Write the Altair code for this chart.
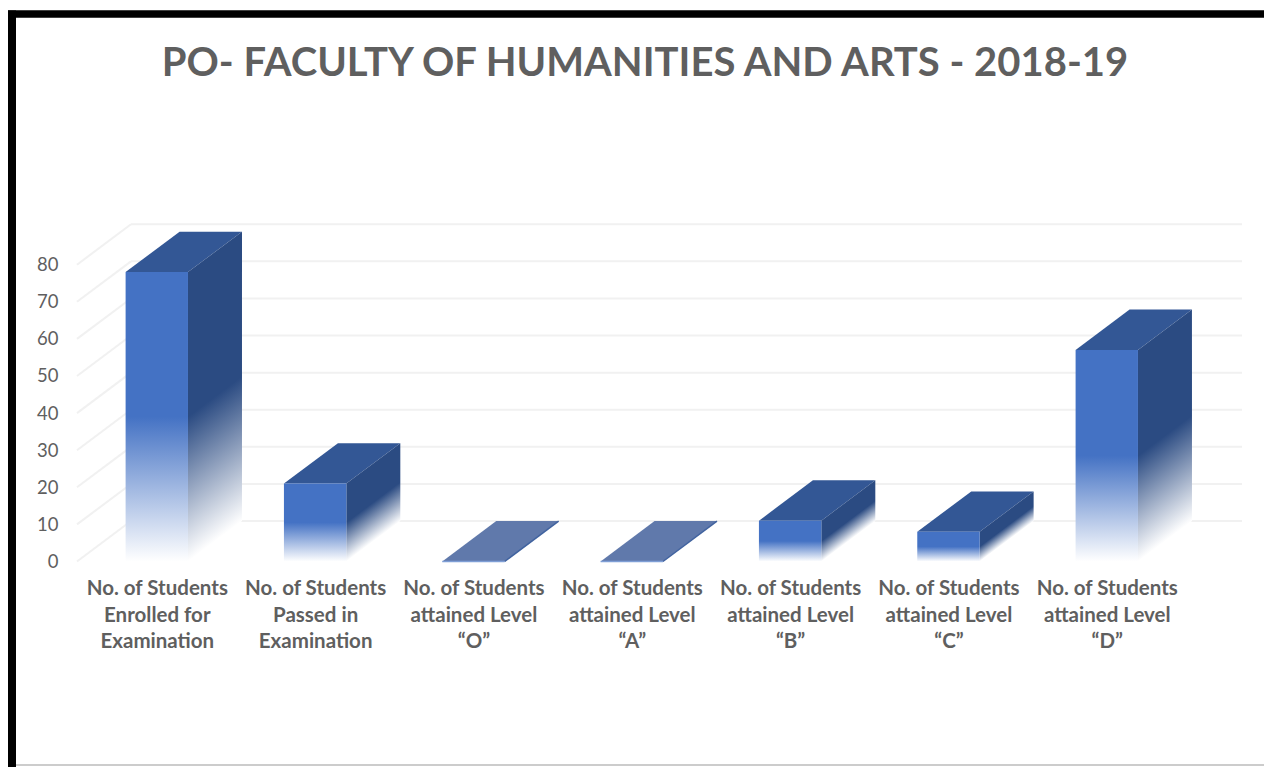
import json
import altair as alt
import pandas as pd

TITLE = "PO- FACULTY OF HUMANITIES AND ARTS - 2018-19"
categories = [
    "No. of Students|Enrolled for|Examination",
    "No. of Students|Passed in|Examination",
    "No. of Students|attained Level|“O”",
    "No. of Students|attained Level|“A”",
    "No. of Students|attained Level|“B”",
    "No. of Students|attained Level|“C”",
    "No. of Students|attained Level|“D”",
]
values = [78, 21, 0, 0, 11, 8, 57]
ticks = [0, 10, 20, 30, 40, 50, 60, 70, 80]

HALF = 0.197   # half bar width, in category units
DX = 0.341     # depth of the 3-D box, in category units
DY = 10.9      # depth of the 3-D box, in value units
XMIN, XMAX = -0.504, 6.854
YMAX = 91.1
PX = 3.71

TEXT = "#5f5f5f"
FONT = "Lato"
GRID = "#f1f1f1"
FRONT = "#4472c4"
SIDE = "#2b4b82"
TOP = "#335795"
ZERO_TOP = "#6079ab"

label_expr = "split(" + json.dumps(categories, ensure_ascii=False) + "[datum.value], '|')"

xs = alt.Scale(domain=[XMIN, XMAX], nice=False, zero=False)
ys = alt.Scale(domain=[0, YMAX], nice=False, zero=False)
x_axis = alt.Axis(
    values=list(range(7)), labelExpr=label_expr, domain=False, ticks=False, grid=False,
    labelFont=FONT, labelFontSize=20.5, labelFontWeight="bold", labelColor=TEXT,
    labelPadding=27, labelLineHeight=26.5, labelOverlap=False, labelFlush=False,
    labelBound=False, labelAngle=0, labelBaseline="middle")
y_axis = alt.Axis(
    values=ticks, domain=False, ticks=False, grid=False,
    labelFont=FONT, labelFontSize=18.5, labelColor=TEXT, labelPadding=19,
    labelOverlap=False, labelBound=False, labelFlush=False)
X = alt.X("x:Q", scale=xs, axis=x_axis, title=None)
Y = alt.Y("y:Q", scale=ys, axis=y_axis, title=None)
X2 = alt.X2("x2:Q")
Y2 = alt.Y2("y2:Q")

# back wall grid
wall = pd.DataFrame({"x": [XMIN + DX] * len(ticks), "x2": [XMAX] * len(ticks),
                     "y": [t + DY for t in ticks], "t": ticks})
grid = alt.Chart(wall).mark_rule(color=GRID, strokeWidth=2).encode(x=X, x2=X2, y=Y)

# floor-side slanted lines
floor_rows = []
for t in ticks:
    floor_rows.append({"x": XMIN, "y": t, "t": t})
    floor_rows.append({"x": XMIN + DX, "y": t + DY, "t": t})
floor = alt.Chart(pd.DataFrame(floor_rows)).mark_line(color=GRID, strokeWidth=2).encode(
    x=X, y=Y, detail="t:N")

layers = [grid, floor]


def side_gradient(v):
    h = v * PX
    k = (DY * PX) / (h + DY * PX)
    t = (1 - k) / (1 + k * k)
    return alt.LinearGradient(
        gradient="linear",
        stops=[alt.GradientStop(color=SIDE, offset=0),
               alt.GradientStop(color=SIDE, offset=0.5),
               alt.GradientStop(color="#ffffff", offset=1)],
        x1=0, y1=k, x2=k * t, y2=k + t)


front_grad = alt.LinearGradient(
    gradient="linear",
    stops=[alt.GradientStop(color=FRONT, offset=0),
           alt.GradientStop(color=FRONT, offset=0.5),
           alt.GradientStop(color="#ffffff", offset=1)],
    x1=0, y1=0, x2=0, y2=1)

for i, v in enumerate(values):
    xl, xr = i - HALF, i + HALF
    top = pd.DataFrame({
        "x": [xl, xl + DX, xr, xr + DX],
        "y": [v, v, v, v + DY],
        "y2": [v, v + DY, v + DY, v + DY],
    })
    layers.append(alt.Chart(top).mark_area(
        color=TOP if v > 0 else ZERO_TOP, interpolate="linear").encode(x=X, y=Y, y2=Y2))
    if v > 0:
        side = pd.DataFrame({"x": [xr, xr + DX], "y": [0, DY], "y2": [v, v + DY]})
        layers.append(alt.Chart(side).mark_area(
            color=side_gradient(v), interpolate="linear").encode(x=X, y=Y, y2=Y2))
        front = pd.DataFrame({"x": [xl], "x2": [xr], "y": [0], "y2": [v]})
        layers.append(alt.Chart(front).mark_rect(color=front_grad).encode(x=X, x2=X2, y=Y, y2=Y2))
    else:
        edge = pd.DataFrame({"x": [xr, xr + DX], "y": [0, DY]})
        layers.append(alt.Chart(edge).mark_line(color="#41639f", strokeWidth=1.5).encode(x=X, y=Y))
        base = pd.DataFrame({"x": [xl, xr], "y": [0, 0]})
        layers.append(alt.Chart(base).mark_line(color="#7f9fd6", strokeWidth=1.5).encode(x=X, y=Y))

one = pd.DataFrame({"a": [0]})
# black frame of the screenshot (top and left, with the bottom line)
layers += [
    alt.Chart(one).mark_rule(color="#000000", strokeWidth=7.5).encode(
        x=alt.value(-69), x2=alt.value(1187), y=alt.value(-209.5)),
    alt.Chart(one).mark_rule(color="#000000", strokeWidth=8).encode(
        x=alt.value(-65), y=alt.value(-213), y2=alt.value(544)),
    alt.Chart(one).mark_rule(color="#999999", strokeWidth=1).encode(
        x=alt.value(-61), x2=alt.value(1187), y=alt.value(541.5)),
    alt.Chart(pd.DataFrame({"t": [TITLE]})).mark_text(
        font=FONT, fontSize=40, fontWeight="bold", color=TEXT, align="center",
        baseline="alphabetic").encode(x=alt.value(568), y=alt.value(-148), text="t:N"),
]

chart = alt.layer(*layers).resolve_scale(x="shared", y="shared").properties(
    width=1165, height=338,
    padding={"left": 69, "top": 215.5, "right": 22, "bottom": 205.5},
    autosize=alt.AutoSizeParams(type="none"),
).configure_view(stroke=None)

chart.save("out.html", embed_options={"renderer": "svg", "actions": False})
